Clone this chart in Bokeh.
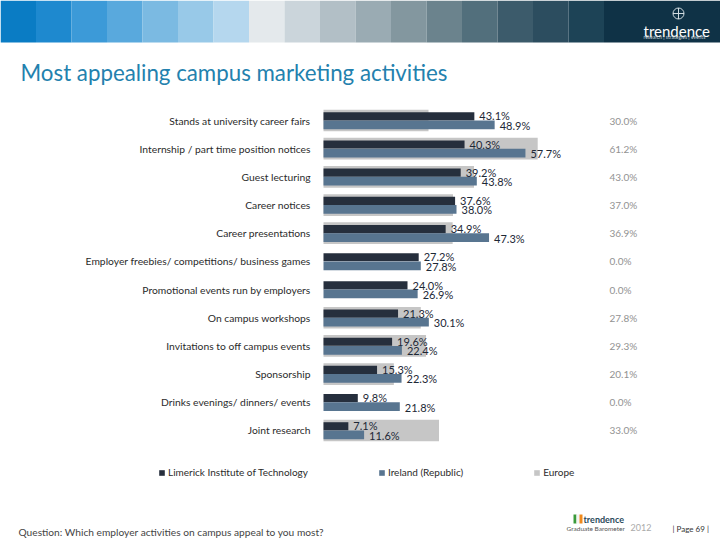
from bokeh.plotting import figure
from bokeh.models import Legend, LegendItem, Range1d, ColumnDataSource
from bokeh.transform import dodge
from bokeh.core.properties import value
from bokeh.embed import file_html
from bokeh.resources import INLINE

# ---------------- data ----------------
categories = [
    "Stands at university career fairs",
    "Internship / part time position notices",
    "Guest lecturing",
    "Career notices",
    "Career presentations",
    "Employer freebies/ competitions/ business games",
    "Promotional events run by employers",
    "On campus workshops",
    "Invitations to off campus events",
    "Sponsorship",
    "Drinks evenings/ dinners/ events",
    "Joint research",
]
limerick = [43.1, 40.3, 39.2, 37.6, 34.9, 27.2, 24.0, 21.3, 19.6, 15.3, 9.8, 7.1]
ireland = [48.9, 57.7, 43.8, 38.0, 47.3, 27.8, 26.9, 30.1, 22.4, 22.3, 21.8, 11.6]
europe = [30.0, 61.2, 43.0, 37.0, 36.9, 0.0, 0.0, 27.8, 29.3, 20.1, 0.0, 33.0]
series_names = ["Limerick Institute of Technology", "Ireland (Republic)", "Europe"]

title_text = "Most appealing campus marketing activities"
question_text = "Question: Which employer activities on campus appeal to you most?"

# ---------------- styles / geometry ----------------
FONT = "Lato"
C_LIM = "#262f3d"
C_IRE = "#587590"
C_EUR = "#c6c6c6"
W, H = 720, 540
PX_PER_PCT = 3.5
BAR_ZERO = 323          # page x of the 0 % baseline
ROW0 = 120              # page y of first row centre
ROW = 28.18             # row pitch, px
EURO_LABEL_X = (609 - BAR_ZERO) / PX_PER_PCT

p = figure(width=W, height=H, output_backend="svg", toolbar_location=None,
           x_range=Range1d(0, W), y_range=Range1d(H, 0),
           x_axis_location=None, y_axis_location=None, min_border=0)
p.extra_x_ranges = {"pct": Range1d(-BAR_ZERO / PX_PER_PCT, (W - BAR_ZERO) / PX_PER_PCT)}
p.extra_y_ranges = {"rows": Range1d((H - ROW0) / ROW, -ROW0 / ROW)}
p.outline_line_color = None
p.xgrid.visible = False
p.ygrid.visible = False
p.border_fill_color = "white"
p.background_fill_color = "white"


def txt(x, y, s, size, color, baseline="alphabetic", style="normal", align="left"):
    p.text(x=[x], y=[y], text=[s], text_font=value(FONT), text_font_size=size,
           text_color=color, text_baseline=baseline, text_font_style=style,
           text_align=align)


# ---------------- banner + title ----------------
strip_colors = ["#0a7cc4", "#1e89cf", "#3c9ad8", "#59a9dd", "#7bbae2", "#98c9e8",
                "#b5d7ee", "#e4e9ec", "#cbd5db", "#b2bfc6", "#9aabb3", "#83979f",
                "#6b838d", "#526f7c", "#3c5b6b", "#2c4d5f", "#1d4356"]
sw = 35.5
n = len(strip_colors)
p.quad(left=[i * sw for i in range(n)], right=[(i + 1) * sw for i in range(n)],
       top=[0] * n, bottom=[42] * n, fill_color=strip_colors, line_color=None)
p.quad(left=[n * sw], right=[W], top=[0], bottom=[42],
       fill_color="#0f3246", line_color=None)
txt(643, 30, "trendence", "15px", "white")
txt(643, 36, "research | strategies | events", "5px", "#c8d4da")
p.scatter(x=[678], y=[13], marker="circle_cross", size=11, fill_color=None,
          line_color="#d0dbe0", line_width=1)
txt(20, 72, title_text, "22.3px", "#2381ae")

# ---------------- chart ----------------
src = ColumnDataSource(dict(
    row=list(range(len(categories))),
    cat=categories,
    lim=limerick,
    ire=ireland,
    eur=europe,
    lim_t=[f"{v:.1f}%" for v in limerick],
    ire_t=[f"{v:.1f}%" for v in ireland],
    eur_t=[f"{v:.1f}%" for v in europe],
    eur_x=[EURO_LABEL_X] * len(categories),
    zero=[0] * len(categories),
))
kw = dict(source=src, x_range_name="pct", y_range_name="rows")

r_eur = p.hbar(y="row", left=0, right="eur", height=0.77, color=C_EUR,
               line_color=None, **kw)
r_lim = p.hbar(y=dodge("row", -0.148), left=0, right="lim", height=0.29,
               color=C_LIM, line_color=None, **kw)
r_ire = p.hbar(y=dodge("row", 0.155), left=0, right="ire", height=0.31,
               color=C_IRE, line_color=None, **kw)

p.text(x="zero", y="row", text="cat", x_offset=-13, text_align="right",
       text_baseline="middle", text_font_size="10.3px", text_color="#2b2b2b",
       text_font=value(FONT), **kw)
p.text(x="lim", y=dodge("row", -0.16), text="lim_t", x_offset=5,
       text_baseline="middle", text_font_size="11px", text_color="#1d2836",
       text_font=value(FONT), **kw)
p.text(x="ire", y=dodge("row", 0.17), text="ire_t", x_offset=5,
       text_baseline="middle", text_font_size="11px", text_color="#1d2836",
       text_font=value(FONT), **kw)
p.text(x="eur_x", y="row", text="eur_t", text_baseline="middle",
       text_font_size="10px", text_color="#929292", text_font=value(FONT), **kw)

legend = Legend(items=[LegendItem(label=series_names[0], renderers=[r_lim]),
                       LegendItem(label=series_names[1], renderers=[r_ire]),
                       LegendItem(label=series_names[2], renderers=[r_eur])],
                orientation="horizontal", location=(158, H - 478),
                spacing=70, padding=0, margin=0, label_standoff=3,
                glyph_width=7, glyph_height=7, label_height=10,
                border_line_color=None, background_fill_alpha=0,
                label_text_font=FONT, label_text_font_size="10px",
                label_text_color="#2b2b2b")
p.add_layout(legend)

# ---------------- footer ----------------
txt(18, 531, question_text, "10.2px", "#444444")
p.quad(left=[573, 576, 579], right=[576, 579, 582], top=[514] * 3, bottom=[523] * 3,
       fill_color=["#3a9a3a", "#f4f4f4", "#f08a1c"], line_color=None)
txt(583, 519, "trendence", "9px", "#2b4a5a", baseline="middle", style="bold")
txt(566, 528, "Graduate Barometer", "6.5px", "#555555", baseline="middle")
txt(630, 527, "2012", "9px", "#aaaaaa", baseline="middle")
txt(672, 528, "| Page 69 |", "8px", "#333333", baseline="middle")

open("out.html", "w").write(file_html(p, INLINE))
